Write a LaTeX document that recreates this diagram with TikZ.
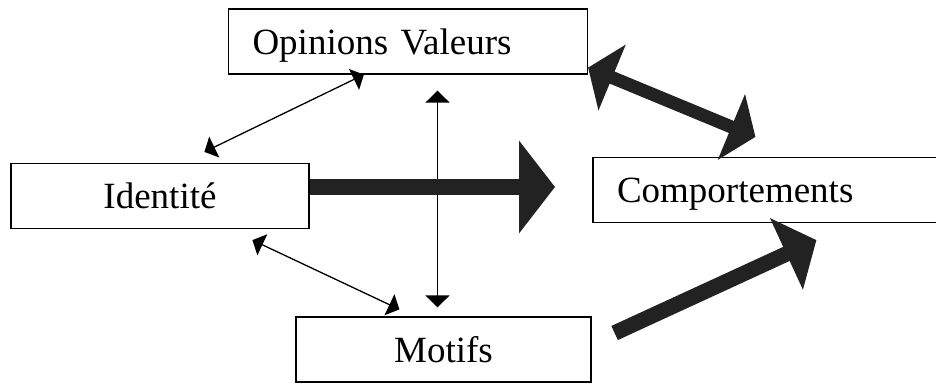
\documentclass[tikz,border=0pt]{standalone}
\usepackage{fontspec}
\setmainfont{Liberation Serif}
\usepackage{xcolor}
\usepackage{tikz}
\usetikzlibrary{arrows.meta,calc}
\definecolor{cArrow}{HTML}{222222}
\tikzset{
  box/.style ={draw, line width=1.2pt, font=\fontsize{37}{40}\selectfont, inner sep=0pt,
               minimum height=65pt, text height=25pt, text depth=0pt},
  lbox/.style={box, align=left, inner xsep=24pt},
  arrow/.style={{Triangle[length=11pt,width=23pt]}-{Triangle[length=11pt,width=23pt]}, line width=1.3pt},
  varrow/.style={{Triangle[length=12pt,width=24pt]}-{Triangle[length=12pt,width=24pt]}, line width=1.3pt},
  bigarrow/.style={-{Triangle[length=36pt,width=91pt]}, line width=15.5pt, draw=cArrow},
  dbigarrow/.style={{Triangle[length=26pt,width=70pt]}-{Triangle[length=26pt,width=70pt]}, line width=13pt, draw=cArrow},
  sbigarrow/.style={-{Triangle[length=33pt,width=77pt]}, line width=15.5pt, draw=cArrow},
}
\begin{document}
\begin{tikzpicture}[x=1pt, y=-1pt]
    \clip (0,0) rectangle (936,383);
    \node[lbox, text width=311pt] (ov) at (408,41.5) {Opinions Valeurs};
    \node[box, minimum width=298pt] (id) at (160,196) {Identité};
    \node[lbox, text width=322pt] (cp) at (778,190) {Comportements};
    \node[box, minimum width=295pt] (mo) at (443.5,349.5) {Motifs};
    \coordinate (t1) at (555,187);
    \draw[arrow]([shift={(194pt,11pt)}]id.north west)--([xshift=136pt]ov.south west);
    \draw[arrow]([shift={(242pt,-11pt)}]id.south west)--([shift={(104pt,7pt)}]mo.north west);
    \draw[varrow]([shift={(29.5pt,-16pt)}]ov.south)--([shift={(-6pt,9pt)}]mo.north);
    \draw[bigarrow](id.east |- t1)--(t1);
    \draw[dbigarrow]([yshift=7pt]ov.south east)--([shift={(163pt,20pt)}]cp.north west);
    \draw[sbigarrow]([shift={(23pt,16.5pt)}]mo.east)--([shift={(224pt,-17pt)}]cp.south west);
  \end{tikzpicture}
\end{document}
